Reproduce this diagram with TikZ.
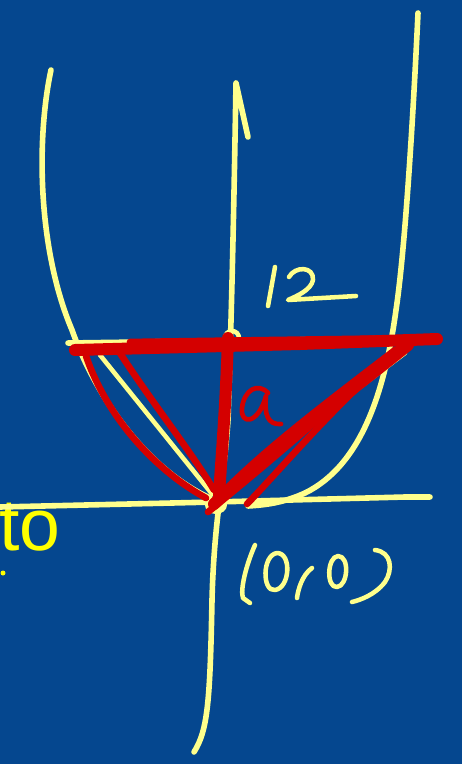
\documentclass[tikz,border=0pt]{standalone}
\usepackage{fontspec}
\setmainfont{Liberation Sans}
\definecolor{bgblue}{RGB}{5,71,143}
\definecolor{pale}{RGB}{255,255,140}
\definecolor{inkred}{RGB}{212,0,0}
\definecolor{txtyellow}{RGB}{255,255,0}
\tikzset{
  ypen/.style={draw=pale, line width=4.2pt, line cap=round, line join=round},
  ythin/.style={draw=pale, line width=3.4pt, line cap=round, line join=round},
  rpen/.style={draw=inkred, line width=5pt, line cap=round, line join=round},
  rthick/.style={draw=inkred, line width=9pt, line cap=round, line join=round},
}
\begin{document}
\begin{tikzpicture}[x=0.75pt,y=-0.75pt]
\fill[bgblue] (0,0) rectangle (462,764);
\useasboundingbox (0,0) rectangle (462,764);
% text fragment
\node[anchor=base east, inner sep=0pt, text=txtyellow, font=\fontsize{55}{60}\selectfont] (to) at (61,550) {to};
\fill[txtyellow] (3,573) circle (2.5);
% parabola branches
\draw[ypen] (51,70) .. controls (36,140) and (38,250) .. (72,330)
  .. controls (95,395) and (145,468) .. (210,498);
\draw[ypen] (418,13) .. controls (413,120) and (405,250) .. (396,310)
  .. controls (385,390) and (362,465) .. (305,493)
  .. controls (283,503) and (265,505) .. (248,506);
% axes
\draw[ypen] (248,137) -- (236,83) .. controls (234,200) and (232,300) .. (228,420)
  .. controls (224,480) and (214,520) .. (212,600)
  .. controls (210,700) and (208,730) .. (194,752);
\draw[ypen] (0,507) -- (215,502) -- (405,497) -- (430,497);
% horizontal yellow line under red
\draw[ypen] (68,343) -- (430,338);
% yellow chords
\draw[ythin] (100,355) -- (212,494);
\draw[ythin] (405,353) .. controls (330,410) and (260,460) .. (218,500);
\draw[ythin] (395,352) .. controls (320,410) and (255,465) .. (215,505);
% origin blob and top point
\fill[pale] (216,505) ellipse (11 and 9);
\draw[ythin] (232,338) circle (7);
% red strokes
\draw[rthick] (75,350) -- (300,344) -- (437,339);
\draw[rpen] (130,342) -- (420,338);
\draw[rthick] (228,338) .. controls (226,400) and (222,450) .. (219,495);
\draw[rpen] (86,356) .. controls (108,420) and (158,472) .. (206,498);
\draw[rpen] (118,350) .. controls (150,400) and (190,450) .. (214,490);
\draw[rthick] (408,345) .. controls (340,400) and (270,450) .. (214,504);
\draw[rpen] (400,347) .. controls (330,410) and (260,470) .. (208,512);
\draw[rpen] (395,350) .. controls (330,400) and (270,445) .. (225,490);
\draw[rpen] (392,356) .. controls (330,410) and (280,470) .. (247,504);
% label a
\draw[rpen, line width=3.5pt] (268,393) .. controls (258,382) and (244,390) .. (242,408)
  .. controls (240,425) and (258,425) .. (266,396)
  .. controls (264,415) and (268,425) .. (281,424);
% label 12
\draw[ythin] (275,267) -- (268,306);
\draw[ythin] (289,277) .. controls (295,266) and (314,266) .. (313,280)
  .. controls (311,290) and (297,296) .. (288,300) -- (356,296);
% label (0,0)
\draw[ythin] (255,545) .. controls (246,565) and (240,590) .. (243,598) -- (250,603);
\draw[ythin] (277,553) .. controls (262,555) and (262,592) .. (275,590)
  .. controls (290,588) and (292,553) .. (277,553);
\draw[ythin] (312,568) .. controls (302,575) and (298,590) .. (297,598);
\draw[ythin] (338,556) .. controls (327,557) and (326,588) .. (337,587)
  .. controls (348,586) and (350,556) .. (338,556);
\draw[ythin] (375,550) .. controls (392,552) and (393,570) .. (385,582)
  .. controls (375,595) and (360,600) .. (352,602);
\end{tikzpicture}
\end{document}
